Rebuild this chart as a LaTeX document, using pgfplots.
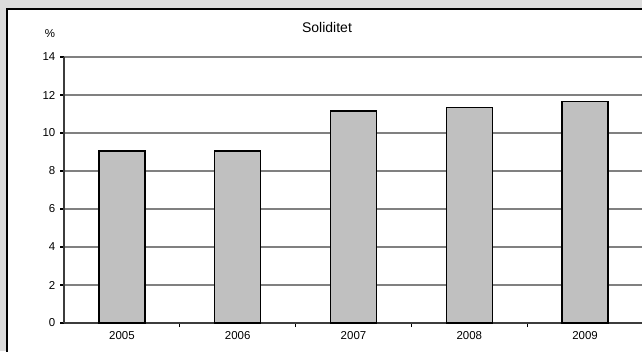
\documentclass[border=0pt]{standalone}
\usepackage{pgfplots}
\pgfplotsset{compat=1.18}
\usepackage{fontspec}
\setmainfont{Liberation Sans}
\definecolor{bgray}{RGB}{220,220,220}
\definecolor{barfill}{RGB}{192,192,192}
\definecolor{gridc}{RGB}{128,128,128}
\definecolor{axc}{RGB}{60,60,60}
\begin{document}
\begin{tikzpicture}
\useasboundingbox (0,0) rectangle (481.5pt,263.25pt);
\clip (0,0) rectangle (481.5pt,263.25pt);
\fill[bgray] (0,0) rectangle (481.5pt,263.25pt);
\draw[fill=white, line width=1.2pt] (5.25pt,-10pt) rectangle (500pt,256.5pt);
\begin{axis}[
  at={(48pt,21pt)}, anchor=south west,
  width=434.25pt, height=199.5pt, scale only axis,
  xmin=-0.5, xmax=4.5, ymin=0, ymax=14,
  axis x line=bottom, axis y line=left,
  axis line style={-, axc, line width=1.3pt},
  ytick={0,2,...,14},
  ymajorgrids, grid style={gridc, line width=1.2pt},
  xtick={0.5,1.5,2.5,3.5}, xticklabels={},
  extra x ticks={0,1,2,3,4},
  extra x tick labels={2005,2006,2007,2008,2009},
  extra x tick style={major tick length=0pt, xticklabel style={yshift=-3pt}},
  tick align=outside, major tick length=3pt,
  tick style={black, line width=0.8pt},
  tick label style={font=\fontsize{8.6}{10}\selectfont},
  /pgf/number format/assume math mode=true,
  ybar, bar width=34.5pt,
  clip=false,
]
\addplot[fill=barfill, draw=black, line width=1pt] coordinates {(0,9.05) (1,9.05) (2,11.15) (3,11.35) (4,11.65)};
\end{axis}
\node[font=\fontsize{10.5}{12}\selectfont] at (245.25pt,243pt) {Soliditet};
\node[font=\fontsize{8.6}{10}\selectfont] at (37.5pt,237.75pt) {\%};
\end{tikzpicture}
\end{document}
